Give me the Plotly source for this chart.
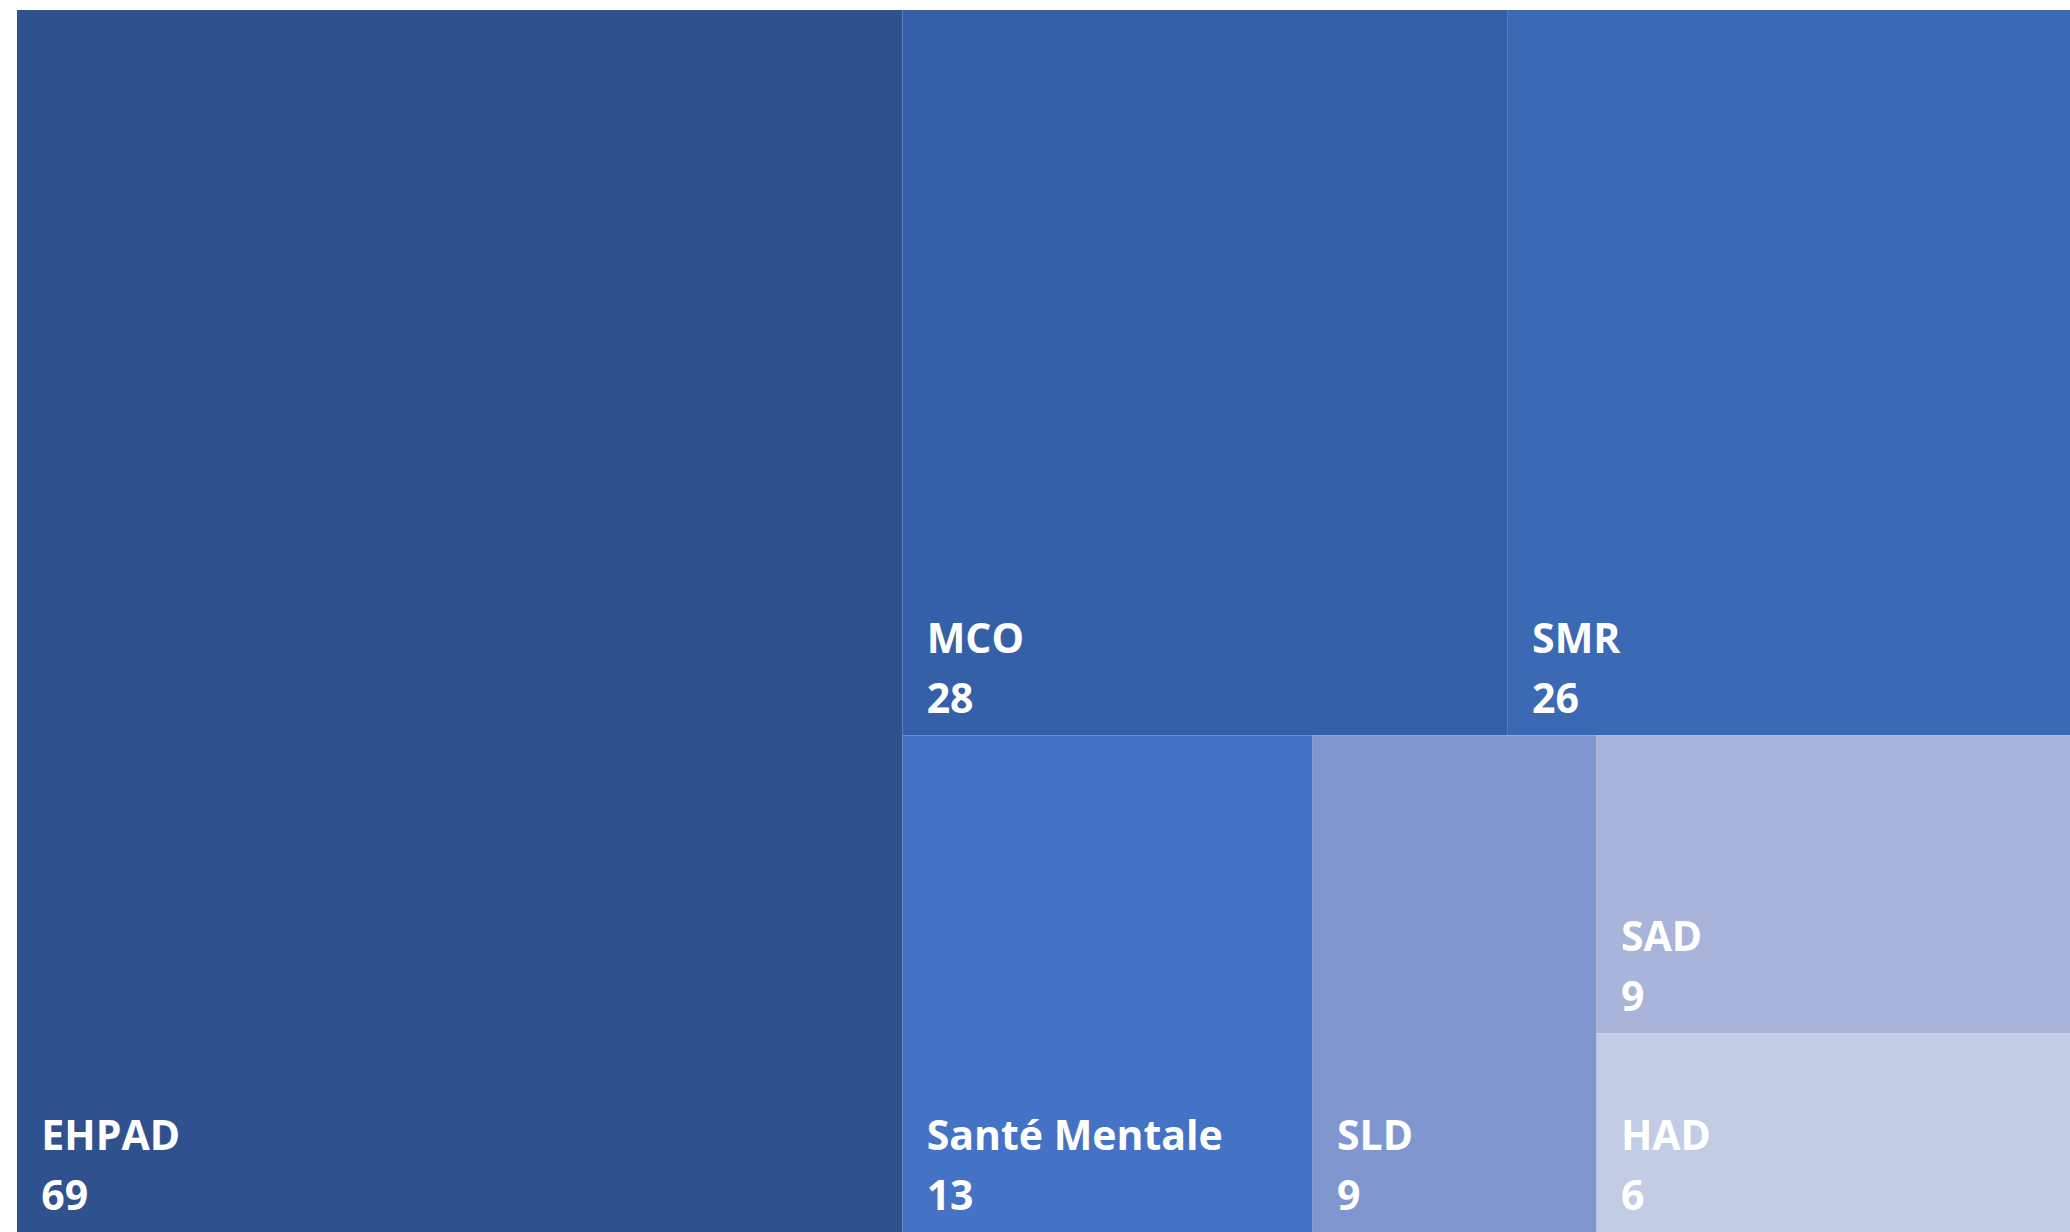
import plotly.graph_objects as go

# Nombre d'établissements par type de structure
labels = ["EHPAD", "MCO", "SMR", "Santé Mentale", "SLD", "SAD", "HAD"]
values = [69, 28, 26, 13, 9, 9, 6]
colors = ["#2F528F", "#355FA6", "#3C69B4", "#4472C4", "#7F96CF", "#A8B4DA", "#C3CCE5"]

# Glyphs at 41px on a 46px line pitch, with a small indent and some room under the value
glyph = "<span style='font-size:41px'>&nbsp;&nbsp;<b>{}</b></span>"
tail = "<span style='font-size:64px'>&nbsp;</span>"
template = glyph.format("%{label}") + "<br>" + glyph.format("%{value}") + tail

fig = go.Figure(
    go.Treemap(
        labels=labels,
        parents=[""] * len(labels),
        values=values,
        sort=True,
        tiling=dict(packing="squarify", squarifyratio=1, pad=0),
        marker=dict(colors=colors, line=dict(width=0), pad=dict(t=0, l=0, r=0, b=0)),
        pathbar=dict(visible=False),
        texttemplate=template,
        textposition="bottom left",
        textfont=dict(family="Open Sans", size=46, color="white"),
        hoverinfo="skip",
    )
)

fig.update_layout(
    width=2070,
    height=1232,
    margin=dict(l=17, t=10, r=0, b=0),
    paper_bgcolor="white",
    plot_bgcolor="white",
)

fig.write_html("out.html")
